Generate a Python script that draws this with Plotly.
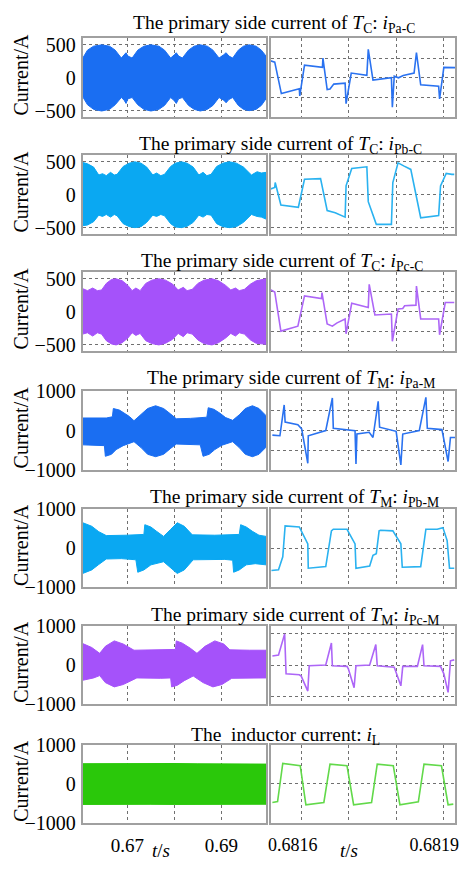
import plotly.graph_objects as go

W, H = 471, 871

# ---------------- left panels: envelope of the switching waveform (t/s, A) ----------------
t1 = [0.6605,0.6615,0.6628,0.6645,0.6662,0.6674,0.6687,0.6693,0.6697,0.6701,0.6710,0.6722,0.6735,0.6750,0.6767,0.6779,0.6792,0.6800,0.6804,0.6809,0.6817,0.6830,0.6842,0.6855,0.6870,0.6882,0.6895,0.6905,0.6910,0.6916,0.6924,0.6936,0.6947,0.6959,0.6974,0.6985,0.6995]
v1_top = [300,420,480,500,480,420,300,350,380,330,300,420,480,500,480,420,300,350,380,330,300,420,480,500,480,420,300,350,380,330,300,420,480,500,480,420,330]
v1_bot = [-290,-410,-480,-505,-480,-410,-300,-340,-390,-320,-300,-410,-480,-505,-480,-420,-300,-350,-390,-320,-300,-420,-480,-505,-480,-420,-300,-340,-380,-330,-300,-420,-480,-500,-480,-420,-320]

t2 = [0.6605,0.6615,0.6628,0.6639,0.6647,0.6655,0.6664,0.6672,0.6678,0.6691,0.6704,0.6716,0.6729,0.6741,0.6754,0.6762,0.6771,0.6779,0.6792,0.6802,0.6815,0.6827,0.6840,0.6852,0.6861,0.6869,0.6878,0.6890,0.6903,0.6917,0.6932,0.6947,0.6964,0.6976,0.6985,0.6995]
v2_top = [490,470,420,300,320,290,340,300,310,430,480,500,480,420,300,330,290,310,430,480,500,480,420,300,340,290,310,430,480,500,480,420,300,350,330,340]
v2_bot = [-470,-460,-410,-310,-330,-300,-340,-300,-320,-440,-485,-500,-485,-420,-310,-330,-300,-320,-440,-490,-500,-480,-420,-310,-340,-300,-310,-440,-485,-500,-485,-420,-300,-330,-340,-370]

t3 = [0.6605,0.6615,0.6626,0.6636,0.6645,0.6655,0.6666,0.6676,0.6689,0.6701,0.6710,0.6718,0.6727,0.6739,0.6752,0.6767,0.6781,0.6796,0.6808,0.6819,0.6827,0.6838,0.6850,0.6863,0.6880,0.6894,0.6909,0.6920,0.6930,0.6938,0.6949,0.6962,0.6974,0.6995]
v3_top = [350,320,360,320,330,430,490,500,470,400,320,360,320,430,480,500,480,420,330,370,320,340,430,480,500,470,400,330,360,320,340,420,470,500]
v3_bot = [-340,-320,-370,-320,-340,-440,-490,-505,-470,-400,-320,-360,-330,-440,-485,-505,-480,-420,-330,-380,-320,-340,-430,-485,-505,-470,-400,-330,-370,-320,-340,-430,-480,-495]

t4_top = [0.6605,0.6634,0.6655,0.6668,0.6670,0.6683,0.6695,0.6704,0.6714,0.6729,0.6743,0.6760,0.6777,0.6792,0.6804,0.6834,0.6869,0.6872,0.6884,0.6897,0.6909,0.6924,0.6938,0.6951,0.6966,0.6980,0.6995]
v4_top = [320,330,320,350,560,520,440,360,250,400,560,630,560,420,300,310,340,580,540,440,330,260,400,560,630,560,380]
t4_bot = [0.6605,0.6634,0.6651,0.6653,0.6666,0.6676,0.6691,0.6714,0.6729,0.6743,0.6760,0.6777,0.6792,0.6804,0.6855,0.6861,0.6874,0.6886,0.6901,0.6924,0.6938,0.6951,0.6966,0.6980,0.6995]
v4_bot = [-360,-370,-380,-650,-600,-480,-380,-280,-430,-600,-660,-600,-450,-340,-360,-650,-600,-480,-370,-280,-430,-600,-660,-600,-420]

t5_top = [0.6605,0.6624,0.6639,0.6655,0.6697,0.6735,0.6737,0.6750,0.6762,0.6777,0.6792,0.6806,0.6821,0.6838,0.6886,0.6938,0.6941,0.6953,0.6966,0.6980,0.6995]
v5_top = [650,560,420,320,330,350,600,540,430,300,480,650,560,340,330,350,600,540,430,330,300]
t5_bot = [0.6605,0.6624,0.6639,0.6655,0.6687,0.6718,0.6722,0.6735,0.6750,0.6777,0.6792,0.6806,0.6821,0.6840,0.6907,0.6924,0.6926,0.6938,0.6953,0.6972,0.6995]
v5_bot = [-650,-560,-420,-280,-270,-300,-620,-560,-430,-350,-500,-650,-560,-300,-290,-310,-620,-560,-430,-400,-430]

t6_top = [0.6605,0.6624,0.6641,0.6653,0.6672,0.6691,0.6714,0.6750,0.6802,0.6804,0.6817,0.6834,0.6848,0.6865,0.6886,0.6905,0.6918,0.6960,0.6995]
v6_top = [550,450,300,480,620,540,380,390,400,620,560,430,300,480,620,540,390,380,380]
t6_bot = [0.6605,0.6628,0.6641,0.6653,0.6672,0.6691,0.6720,0.6771,0.6792,0.6794,0.6806,0.6821,0.6840,0.6861,0.6882,0.6901,0.6922,0.6995]
v6_bot = [-390,-330,-270,-450,-560,-500,-330,-340,-330,-560,-520,-400,-280,-450,-560,-500,-340,-330]

t7 = [0.6605,0.6650,0.6700,0.6750,0.6800,0.6850,0.6900,0.6950,0.6995]
v7_top = [520,525,515,520,525,518,522,515,510]
v7_bot = [-525,-520,-528,-522,-525,-530,-522,-525,-520]

# ---------------- right panels: zoomed waveform (t/s, A) ----------------
r1_t = [0.681531,0.681543,0.681557,0.681595,0.681596,0.681606,0.681644,0.681645,0.681654,0.681660,0.681668,0.681692,0.681694,0.681705,0.681738,0.681741,0.681751,0.681790,0.681792,0.681796,0.681805,0.681815,0.681838,0.681843,0.681852,0.681890,0.681892,0.681901,0.681925]
r1_v = [264,238,-240,-168,-275,192,158,298,-178,-170,-96,-82,-394,72,38,432,-34,0,-446,24,0,34,72,384,-106,-130,-322,158,154]

r2_t = [0.681533,0.681543,0.681544,0.681556,0.681593,0.681606,0.681640,0.681654,0.681671,0.681692,0.681694,0.681706,0.681738,0.681741,0.681758,0.681790,0.681793,0.681804,0.681817,0.681831,0.681852,0.681890,0.681894,0.681906,0.681918,0.681923]
r2_v = [85,110,185,-155,-190,235,245,-240,-275,-340,135,400,425,-105,-450,-450,185,485,435,385,-350,-315,135,325,310,310]

r3_t = [0.681533,0.681543,0.681556,0.681592,0.681606,0.681642,0.681643,0.681654,0.681665,0.681675,0.681692,0.681694,0.681706,0.681741,0.681743,0.681755,0.681790,0.681792,0.681804,0.681814,0.681818,0.681842,0.681843,0.681852,0.681890,0.681892,0.681904,0.681918,0.681923]
r3_v = [340,300,-295,-220,240,200,290,-185,-220,-170,-110,-335,130,65,415,-50,-35,-450,40,50,90,100,390,-110,-110,-350,140,140,140]

r4_t = [0.681538,0.681554,0.681563,0.681565,0.681592,0.681600,0.681613,0.681614,0.681651,0.681665,0.681667,0.681706,0.681713,0.681715,0.681717,0.681743,0.681751,0.681762,0.681765,0.681800,0.681810,0.681814,0.681849,0.681863,0.681866,0.681897,0.681910,0.681915,0.681925]
r4_v = [-113,-130,650,217,148,43,-826,-130,0,826,61,0,0,-844,-87,-43,-174,740,87,-17,-870,-87,0,844,61,26,-783,-174,-174]

r5_t = [0.681536,0.681551,0.681560,0.681565,0.681595,0.681613,0.681614,0.681651,0.681663,0.681667,0.681696,0.681713,0.681715,0.681744,0.681751,0.681758,0.681764,0.681767,0.681793,0.681810,0.681813,0.681852,0.681863,0.681887,0.681899,0.681908,0.681913,0.681923]
r5_v = [-575,-558,-225,567,542,108,-517,-475,442,483,483,108,-517,-458,-183,-142,442,458,442,108,-492,-475,483,483,525,192,-517,-517]

r6_t = [0.681538,0.681551,0.681564,0.681567,0.681595,0.681599,0.681613,0.681616,0.681651,0.681663,0.681665,0.681696,0.681699,0.681711,0.681715,0.681744,0.681757,0.681760,0.681796,0.681810,0.681814,0.681845,0.681856,0.681859,0.681894,0.681901,0.681910,0.681915,0.681923]
r6_v = [233,258,800,-225,-250,-283,-667,-17,0,567,-17,-33,-100,-583,-17,0,525,-17,-58,-533,-33,-33,525,-17,-33,-225,-700,108,133]

r7_t = [0.681538,0.681549,0.681560,0.681597,0.681609,0.681647,0.681660,0.681696,0.681710,0.681748,0.681760,0.681794,0.681808,0.681847,0.681859,0.681896,0.681910,0.681921]
r7_v = [-475,-450,525,467,-533,-475,508,467,-533,-475,508,467,-533,-458,508,467,-533,-517]

# ---------------- text ----------------
titles = [
    "The primary side current of <i>T</i><sub>C</sub>: <i>i</i><sub>Pa-C</sub>",
    "The primary side current of <i>T</i><sub>C</sub>: <i>i</i><sub>Pb-C</sub>",
    "The primary side current of <i>T</i><sub>C</sub>: <i>i</i><sub>Pc-C</sub>",
    "The primary side current of <i>T</i><sub>M</sub>: <i>i</i><sub>Pa-M</sub>",
    "The primary side current of <i>T</i><sub>M</sub>: <i>i</i><sub>Pb-M</sub>",
    "The primary side current of <i>T</i><sub>M</sub>: <i>i</i><sub>Pc-M</sub>",
    "The \u00a0inductor current: <i>i</i><sub>L</sub>",
]
y_label = "Current/A"
x_label = "<i>t</i>/<i>s</i>"
left_xticks = [0.67, 0.68, 0.69]
left_xtext = ["0.67", "", "0.69"]
right_xticks = [0.6816, 0.6817, 0.6818, 0.6819]
right_xtext = ["0.6816", "", "", "0.6819"]
yticks_small = [-500, 0, 500]
yticks_big = [-1000, 0, 1000]

# ---------------- styling / layout ----------------
FONT = "Liberation Serif"
fill_cols = ["#1a6ef2", "#0aa8f2", "#a552fa", "#1a6ef2", "#0aa8f2", "#a552fa", "#2ac80a"]
line_cols = ["#2a72f0", "#2ab2f0", "#ad66f7", "#2a72f0", "#2ab2f0", "#ad66f7", "#62d94a"]

row_px = [(28, 109), (148, 229), (268, 349), (390, 471), (511, 591), (631, 711), (753, 833)]
title_px = [(275, 13), (282, 137), (283, 258), (292, 378), (296, 500), (296, 621), (287, 744)]
left_px = (81, 267)
right_px = (272, 459)

left_data = [
    (t1, v1_top, t1, v1_bot), (t2, v2_top, t2, v2_bot), (t3, v3_top, t3, v3_bot),
    (t4_top, v4_top, t4_bot, v4_bot), (t5_top, v5_top, t5_bot, v5_bot),
    (t6_top, v6_top, t6_bot, v6_bot), (t7, v7_top, t7, v7_bot),
]
right_data = [(r1_t, r1_v), (r2_t, r2_v), (r3_t, r3_v), (r4_t, r4_v), (r5_t, r5_v), (r6_t, r6_v), (r7_t, r7_v)]
left_yrange = [[-600, 600]] * 3 + [[-1000, 1000]] * 4
left_yticks = [yticks_small] * 3 + [yticks_big] * 4
right_yrange = [[-600, 600]] * 3 + [[-1000, 1000]] * 4
right_ygrid = [[-300, 0, 300], [-500, 0, 500], [-300, 0, 300], [-500, 0, 500], [0], [-800, 0, 800], [0]]

fig = go.Figure()
layout = dict(width=W, height=H, margin=dict(l=0, r=0, t=0, b=0),
              paper_bgcolor="white", plot_bgcolor="white", showlegend=False,
              font=dict(family=FONT, color="black", size=19))
annotations = []

def ax_name(i):
    return ("x" if i == 1 else f"x{i}"), ("y" if i == 1 else f"y{i}")

frame = dict(showline=True, mirror=True, linecolor="#a0a0a0", linewidth=2,
             zeroline=False, ticks="", showgrid=True, gridcolor="#707070",
             gridwidth=1, griddash="dot")

for r in range(7):
    li, ri = 2 * r + 1, 2 * r + 2
    top, bot = row_px[r]
    ydom = [1 - bot / H, 1 - top / H]
    last = (r == 6)
    # left
    tt, vt, tb, vb = left_data[r]
    xs = list(tt) + list(reversed(tb))
    ys = list(vt) + list(reversed(vb))
    xa, ya = ax_name(li)
    fig.add_trace(go.Scatter(x=xs, y=ys, mode="lines", fill="toself",
                             fillcolor=fill_cols[r], line=dict(color=fill_cols[r], width=1),
                             xaxis=xa, yaxis=ya, hoverinfo="skip"))
    layout[f"xaxis{li}"] = dict(domain=[left_px[0] / W, left_px[1] / W], anchor=ya,
                                range=[0.6605, 0.6995], tickvals=left_xticks, ticktext=left_xtext,
                                showticklabels=last, tickfont=dict(size=19),
                                ticklabelstandoff=4, **frame)
    layout[f"yaxis{li}"] = dict(domain=ydom, anchor=xa, range=left_yrange[r],
                                tickvals=left_yticks[r], tickfont=dict(size=20),
                                ticklabelstandoff=1, **frame)
    # right
    rt, rv = right_data[r]
    xa2, ya2 = ax_name(ri)
    fig.add_trace(go.Scatter(x=rt, y=rv, mode="lines", line=dict(color=line_cols[r], width=1.6),
                             xaxis=xa2, yaxis=ya2, hoverinfo="skip"))
    layout[f"xaxis{ri}"] = dict(domain=[right_px[0] / W, right_px[1] / W], anchor=ya2,
                                range=[0.681535, 0.681925], tickvals=right_xticks, ticktext=right_xtext,
                                showticklabels=last, tickfont=dict(size=18),
                                ticklabelshift=-9, ticklabelstandoff=4, **frame)
    layout[f"yaxis{ri}"] = dict(domain=ydom, anchor=xa2, range=right_yrange[r],
                                tickvals=right_ygrid[r], showticklabels=False, **frame)
    # title
    cx, cy = title_px[r]
    annotations.append(dict(text=titles[r], x=cx / W, y=1 - cy / H, xref="paper", yref="paper",
                            xanchor="center", yanchor="middle", showarrow=False,
                            font=dict(size=19.5, family=FONT)))
    # y label
    annotations.append(dict(text=y_label, x=18 / W, y=1 - ((top + bot) / 2 - 3) / H,
                            xref="paper", yref="paper", xanchor="center", yanchor="middle",
                            textangle=-90, showarrow=False, font=dict(size=20, family=FONT)))

annotations.append(dict(text=x_label, x=160 / W, y=1 - 861 / H, xref="paper", yref="paper",
                        xanchor="center", yanchor="middle", showarrow=False, font=dict(size=19, family=FONT)))
annotations.append(dict(text=x_label, x=351 / W, y=1 - 861 / H, xref="paper", yref="paper",
                        xanchor="center", yanchor="middle", showarrow=False, font=dict(size=19, family=FONT)))
layout["annotations"] = annotations
fig.update_layout(**layout)
fig.write_html("out.html")
